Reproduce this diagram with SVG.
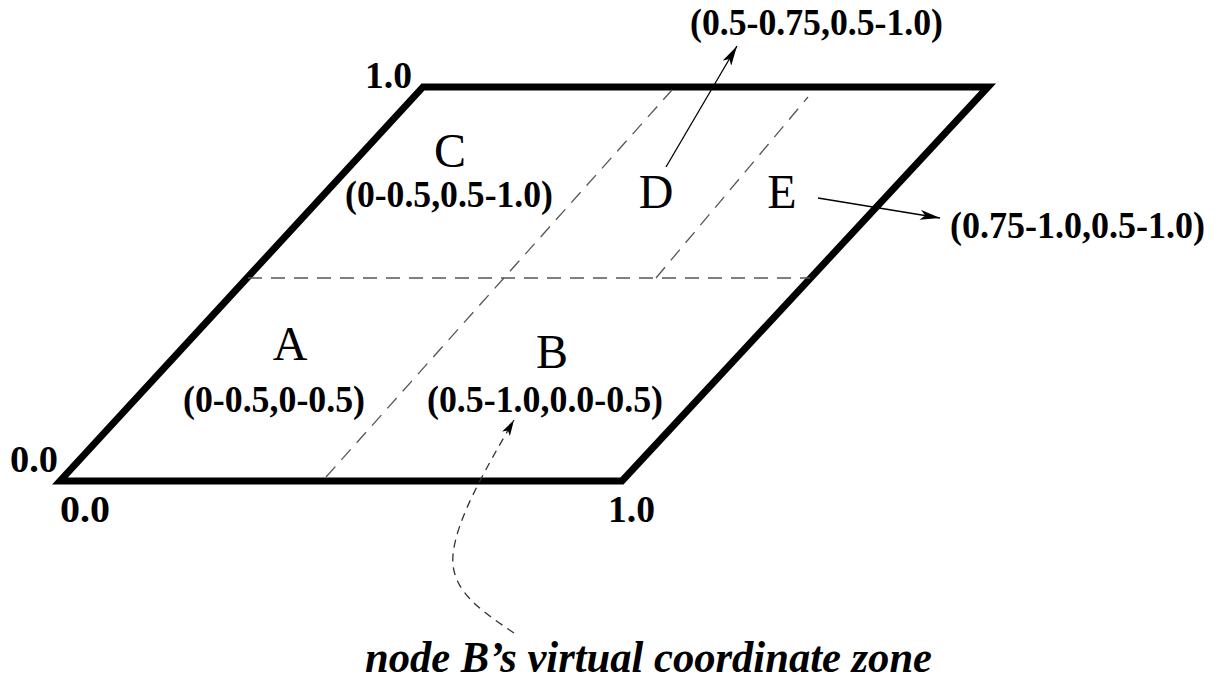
<svg xmlns="http://www.w3.org/2000/svg" width="1226" height="680" viewBox="0 0 1226 680">
<defs>
<style>
.num{font-family:"Liberation Serif",serif;font-weight:bold;font-size:38px;fill:#000}
.let{font-family:"Liberation Serif",serif;font-size:48px;fill:#000}
.cap{font-family:"Liberation Serif",serif;font-style:italic;font-weight:bold;font-size:44px;fill:#000}
.border{fill:none;stroke:#000;stroke-width:7;stroke-linejoin:miter}
.grid{fill:none;stroke:#555;stroke-width:1.3;stroke-dasharray:14 9}
.ptr{fill:none;stroke:#000;stroke-width:1.3}
.bptr{fill:none;stroke:#333;stroke-width:1.3;stroke-dasharray:8 6}
</style>
<marker id="ah" viewBox="0 0 20 10" refX="20" refY="5" markerWidth="20" markerHeight="10" markerUnits="userSpaceOnUse" orient="auto">
<path d="M0,0 L20,5 L0,10 L5,5 Z" fill="#000"/>
</marker>
<marker id="ahs" viewBox="0 0 16 9" refX="16" refY="4.5" markerWidth="16" markerHeight="9" markerUnits="userSpaceOnUse" orient="auto">
<path d="M0,0 L16,4.5 L0,9 L4,4.5 Z" fill="#000"/>
</marker>
</defs>
<rect width="1226" height="680" fill="#fff"/>
<g id="plane">
<path class="border" d="M60,481 L622,481 L988,87 L423,87 Z"/>
</g>
<g id="connectors">
<line class="grid" x1="248" y1="278" x2="810" y2="278"/>
<line class="grid" x1="326" y1="477" x2="672" y2="90"/>
<line class="grid" x1="656" y1="278" x2="808" y2="97"/>
<line class="ptr" x1="666" y1="167" x2="737" y2="46" marker-end="url(#ah)"/>
<line class="ptr" x1="818" y1="198" x2="940" y2="218" marker-end="url(#ah)"/>
<path class="bptr" d="M514,633 C480,610 450,590 453,555 C456,520 485,470 514,420" marker-end="url(#ahs)"/>
</g>
<g id="axis-labels">
<text class="num" x="365" y="88" textLength="47" lengthAdjust="spacingAndGlyphs">1.0</text>
<text class="num" x="10" y="472" textLength="48" lengthAdjust="spacingAndGlyphs">0.0</text>
<text class="num" x="60" y="522" textLength="50" lengthAdjust="spacingAndGlyphs">0.0</text>
<text class="num" x="608" y="522" textLength="47" lengthAdjust="spacingAndGlyphs">1.0</text>
</g>
<g id="zone-A">
<text class="let" x="290" y="360" text-anchor="middle">A</text>
<text class="num" x="183" y="412" textLength="182" lengthAdjust="spacingAndGlyphs">(0-0.5,0-0.5)</text>
</g>
<g id="zone-B">
<text class="let" x="552" y="368" text-anchor="middle">B</text>
<text class="num" x="427" y="412" textLength="236" lengthAdjust="spacingAndGlyphs">(0.5-1.0,0.0-0.5)</text>
</g>
<g id="zone-C">
<text class="let" x="450" y="167" text-anchor="middle">C</text>
<text class="num" x="345" y="207" textLength="208" lengthAdjust="spacingAndGlyphs">(0-0.5,0.5-1.0)</text>
</g>
<g id="zone-D">
<text class="let" x="656" y="208" text-anchor="middle">D</text>
<text class="num" x="690" y="35" textLength="253" lengthAdjust="spacingAndGlyphs">(0.5-0.75,0.5-1.0)</text>
</g>
<g id="zone-E">
<text class="let" x="782" y="208" text-anchor="middle">E</text>
<text class="num" x="950" y="238" textLength="255" lengthAdjust="spacingAndGlyphs">(0.75-1.0,0.5-1.0)</text>
</g>
<g id="caption">
<text class="cap" x="365" y="672" textLength="567" lengthAdjust="spacingAndGlyphs">node B’s virtual coordinate zone</text>
</g>
</svg>
